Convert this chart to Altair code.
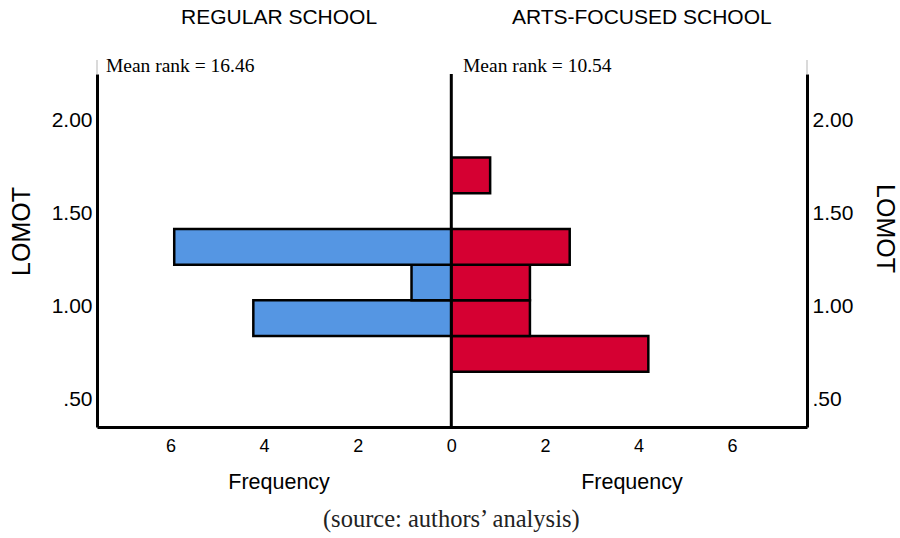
import altair as alt
import pandas as pd

# LOMOT bins (shared edges) and frequency per school
bin_edges = [0.651, 0.843, 1.035, 1.227, 1.419, 1.611, 1.803]
regular_freq = [0.0, 4.23, 0.85, 5.92, 0.0, 0.0]
arts_freq = [4.21, 1.68, 1.68, 2.53, 0.0, 0.83]

groups = ["REGULAR SCHOOL", "ARTS-FOCUSED SCHOOL"]
group_colors = ["#5596E3", "#D50032"]
mean_ranks = ["Mean rank = 16.46", "Mean rank = 10.54"]
freq_ticks = [-6, -4, -2, 0, 2, 4, 6]
lomot_ticks = [0.5, 1.0, 1.5, 2.0]

x_domain = [-7.57, 7.6]
y_domain = [0.354, 2.252]

SANS = "Liberation Sans"
SERIF = "Liberation Serif"

rows = []
for i in range(len(bin_edges) - 1):
    lo, hi = bin_edges[i], bin_edges[i + 1]
    if regular_freq[i] > 0:
        rows.append({"group": groups[0], "x0": 0.0, "x1": -regular_freq[i], "lo": lo, "hi": hi})
    if arts_freq[i] > 0:
        rows.append({"group": groups[1], "x0": 0.0, "x1": arts_freq[i], "lo": lo, "hi": hi})
bars_df = pd.DataFrame(rows)

x_scale = alt.Scale(domain=x_domain, nice=False, zero=False)
y_scale = alt.Scale(domain=y_domain, nice=False, zero=False)

y_label_expr = ("datum.value < 1 ? substring(format(datum.value, '.2f'), 1) "
                ": format(datum.value, '.2f')")

bars = alt.Chart(bars_df).mark_rect(stroke="black", strokeWidth=2.5).encode(
    x=alt.X("x0:Q", scale=x_scale, axis=alt.Axis(
        values=freq_ticks, labelExpr="format(abs(datum.value), 'd')",
        ticks=False, grid=False, domainColor="black", domainWidth=3,
        labelFont=SANS, labelFontSize=18, labelColor="black", labelPadding=10,
        title=None)),
    x2="x1:Q",
    y=alt.Y("lo:Q", scale=y_scale, axis=alt.Axis(
        orient="left", values=lomot_ticks, labelExpr=y_label_expr,
        ticks=False, grid=False, domainColor="black", domainWidth=3,
        labelFont=SANS, labelFontSize=21, labelColor="black", labelPadding=5,
        title="LOMOT", titleFont=SANS, titleFontSize=25, titleFontWeight="normal",
        titleColor="black", titleAngle=270, titleX=-75.5, titleY=157,
        titleAlign="center", titleBaseline="middle")),
    y2="hi:Q",
    color=alt.Color("group:N", scale=alt.Scale(domain=groups, range=group_colors), legend=None),
)

center_df = pd.DataFrame({"x": [0.0], "lo": [y_domain[0]], "hi": [y_domain[1]]})
center = alt.Chart(center_df).mark_rule(color="black", strokeWidth=3).encode(
    x=alt.X("x:Q", scale=x_scale, axis=None),
    y=alt.Y("lo:Q", scale=y_scale, axis=alt.Axis(
        orient="right", values=lomot_ticks, labelExpr=y_label_expr,
        ticks=False, grid=False, domainColor="black", domainWidth=3,
        labelFont=SANS, labelFontSize=21, labelColor="black", labelPadding=5,
        title="LOMOT", titleFont=SANS, titleFontSize=25, titleFontWeight="normal",
        titleColor="black", titleAngle=90, titleX=77, titleY=154,
        titleAlign="center", titleBaseline="middle")),
    y2="hi:Q",
)

# thin grey caps above the outer frame lines
caps = alt.Chart(pd.DataFrame({"x": x_domain})).mark_rule(color="#b5b5b5", strokeWidth=1).encode(
    x=alt.X("x:Q", scale=x_scale, axis=None),
    y=alt.value(-14),
    y2=alt.value(0),
)


def text_layer(positions, labels, y_px, size, font=SANS, align="center",
               baseline="middle", color="black"):
    frame = pd.DataFrame({"pos": positions, "label": labels})
    return alt.Chart(frame).mark_text(
        font=font, fontSize=size, align=align, baseline=baseline, color=color
    ).encode(
        x=alt.X("pos:Q", scale=x_scale, axis=None),
        y=alt.value(y_px),
        text="label:N",
    )


titles = text_layer([-3.68, 4.07], groups, -56, 21)
ranks = text_layer([-7.38, 0.25], mean_ranks, -2, 19.5, font=SERIF, align="left",
                   baseline="alphabetic")
freq_titles = text_layer([-3.68, 3.86], ["Frequency", "Frequency"], 409, 21.5)
source = text_layer([0.0], ["(source: authors\u2019 analysis)"], 446, 24.5,
                    font=SERIF, color="#222222")

chart = alt.layer(bars, center, caps, titles, ranks, freq_titles, source).resolve_axis(
    x="independent", y="independent"
).properties(
    width=710,
    height=353,
    padding={"left": 97, "top": 74, "right": 93, "bottom": 111},
    autosize=alt.AutoSizeParams(type="none"),
    background="white",
).configure_view(stroke=None)

chart.save("out.html", embed_options={"renderer": "svg", "actions": False})
